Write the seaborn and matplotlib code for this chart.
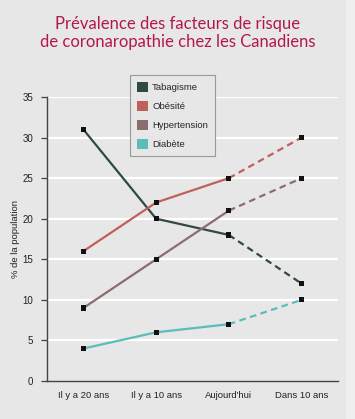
import numpy as np
import pandas as pd
import seaborn as sns
import matplotlib.pyplot as plt
from matplotlib.patches import Patch, Rectangle

periodes = ["Il y a 20 ans", "Il y a 10 ans", "Aujourd'hui", "Dans 10 ans"]
facteurs = ["Tabagisme", "Obésité", "Hypertension", "Diabète"]
tabagisme = [31, 20, 18, 12]
obesite = [16, 22, 25, 30]
hypertension = [9, 15, 21, 25]
diabete = [4, 6, 7, 10]
couleurs = ["#2f4a45", "#c0605b", "#8a6d6e", "#5bbdb9"]

valeurs = [tabagisme, obesite, hypertension, diabete]
rows = []
for f, vals in zip(facteurs, valeurs):
    for i, v in enumerate(vals):
        rows.append({"facteur": f, "x": i, "periode": periodes[i], "valeur": v})
df = pd.DataFrame(rows)
palette = dict(zip(facteurs, couleurs))

bg = "#e7e7e7"
sns.set_theme(style="white")
plt.rcParams['font.family'] = ['Liberation Sans', 'DejaVu Sans']

fig = plt.figure(figsize=(3.55, 4.19), dpi=100, facecolor=bg)
fig.patches.append(Rectangle((346/355, 0), 1 - 346/355, 1, transform=fig.transFigure,
                             facecolor="#efefef", edgecolor="none", zorder=-1))
ax = fig.add_axes([47/355, 1 - 381/419, 291/355, 284/419])
ax.set_facecolor(bg)

for y in range(5, 40, 5):
    ax.axhline(y, color="white", lw=1.6, zorder=0)

# donnees mesurees (traits pleins) et projection (tirets)
sns.lineplot(data=df[df.x <= 2], x="x", y="valeur", hue="facteur", palette=palette,
             lw=1.6, legend=False, ax=ax, zorder=2)
proj = df[df.x >= 2]
for f in facteurs:
    sub = proj[proj.facteur == f]
    ax.plot(sub.x, sub.valeur, color=palette[f], lw=1.6, dashes=(3, 2), zorder=2)
sns.scatterplot(data=df, x="x", y="valeur", color="#111111", marker="s", s=14,
                edgecolor="none", legend=False, ax=ax, zorder=3)

ax.set_xlim(-0.5, 3.5)
ax.set_ylim(0, 35)
ax.set_yticks(range(0, 40, 5))
ax.set_xticks([-0.5, 0.5, 1.5, 2.5, 3.5])
ax.set_xticklabels([])
ax.set_xticks(range(4), minor=True)
ax.set_xticklabels(periodes, minor=True, fontsize=6.8, color="#222222")
ax.tick_params(axis="x", which="major", direction="inout", length=7, width=0.9, color="#444444")
ax.tick_params(axis="x", which="minor", length=0, pad=7)
ax.tick_params(axis="y", direction="out", length=4, width=0.9, color="#444444",
               labelsize=7, labelcolor="#222222", pad=6, left=True)
ax.set_xlabel("")
ax.set_ylabel("% de la population", fontsize=6.8, color="#222222")
ax.yaxis.set_label_coords(-27/291, 0.5)
for s in ["top", "right"]:
    ax.spines[s].set_visible(False)
for s in ["left", "bottom"]:
    ax.spines[s].set_color("#444444")
    ax.spines[s].set_linewidth(1.0)

handles = [Patch(facecolor=c, edgecolor="none") for c in couleurs]
leg = ax.legend(handles, facteurs, loc="upper left", bbox_to_anchor=(0.285, 1.077),
                borderaxespad=0, fontsize=6.8, handlelength=1.25, handleheight=1.25,
                handletextpad=0.4, labelspacing=0.95, borderpad=0.7, fancybox=False,
                framealpha=1, facecolor=bg, edgecolor="#9a9a9a")
leg.get_frame().set_linewidth(0.8)

fig.text(0.5, 1 - 33/419, "Prévalence des facteurs de risque\nde coronaropathie chez les Canadiens",
         ha="center", va="center", fontsize=12, color="#b3184b", linespacing=1.2,
         family=["Lato", "DejaVu Sans"])

fig.savefig("out.png", dpi=100, facecolor=bg)
